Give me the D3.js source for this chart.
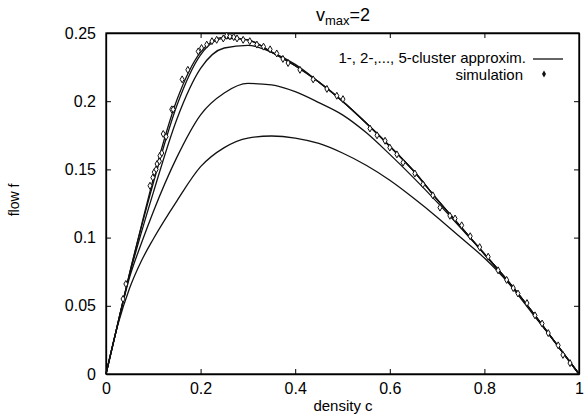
<!DOCTYPE html>
<html>
<head>
<meta charset="utf-8">
<script src="https://cdn.jsdelivr.net/npm/d3@7"></script>
<style>
  body { margin: 0; background: #fff; }
  svg { display: block; font-family: "Liberation Sans", Arial, sans-serif; }
</style>
</head>
<body>
<div id="chart"></div>
<script>
// density grid shared by the cluster approximations
const density = [0, 0.025, 0.05, 0.075, 0.1, 0.15, 0.2, 0.25, 0.3, 0.35, 0.4, 0.45, 0.5,
                 0.55, 0.6, 0.65, 0.7, 0.75, 0.8, 0.85, 0.9, 0.95, 1.0];

// n-cluster approximations (flow values)
const cluster1 = [0, 0.036, 0.063, 0.083, 0.099, 0.127, 0.152, 0.166, 0.173, 0.1745, 0.173, 0.169, 0.162,
                  0.153, 0.142, 0.129, 0.115, 0.100, 0.085, 0.067, 0.045, 0.023, 0];
const cluster2 = [0, 0.037, 0.071, 0.096, 0.119, 0.159, 0.190, 0.206, 0.213, 0.212, 0.207, 0.199, 0.190,
                  0.177, 0.161, 0.144, 0.126, 0.107, 0.088, 0.068, 0.046, 0.023, 0];
const cluster3 = [0, 0.037, 0.073, 0.104, 0.133, 0.187, 0.224, 0.239, 0.241, 0.236, 0.227, 0.214, 0.2,
                  0.184, 0.167, 0.149, 0.128, 0.108, 0.088, 0.068, 0.046, 0.023, 0];
const cluster4 = [0, 0.037, 0.074, 0.108, 0.140, 0.197, 0.234, 0.246, 0.245, 0.236, 0.226, 0.214, 0.2,
                  0.184, 0.167, 0.149, 0.128, 0.108, 0.088, 0.068, 0.046, 0.023, 0];
const cluster5 = [0, 0.037, 0.074, 0.109, 0.143, 0.201, 0.236, 0.247, 0.245, 0.236, 0.226, 0.214, 0.2,
                  0.184, 0.167, 0.149, 0.128, 0.108, 0.088, 0.068, 0.046, 0.023, 0];

// simulation points [c, f]
const simulation = [
  [0.036, 0.055], [0.042, 0.066], [0.093, 0.138], [0.099, 0.144], [0.102, 0.148],
  [0.106, 0.150], [0.108, 0.154], [0.113, 0.156], [0.114, 0.160], [0.118, 0.162],
  [0.121, 0.176], [0.127, 0.174], [0.139, 0.194], [0.142, 0.194], [0.161, 0.216],
  [0.173, 0.223], [0.195, 0.2365], [0.202, 0.239], [0.213, 0.2415], [0.224, 0.244],
  [0.234, 0.245], [0.248, 0.246], [0.255, 0.248], [0.262, 0.2475], [0.270, 0.247],
  [0.277, 0.246], [0.290, 0.245], [0.304, 0.244], [0.319, 0.2415], [0.333, 0.240],
  [0.347, 0.238], [0.361, 0.235], [0.374, 0.231], [0.385, 0.228], [0.410, 0.223],
  [0.438, 0.216], [0.467, 0.209], [0.488, 0.204], [0.501, 0.2015], [0.558, 0.180],
  [0.573, 0.175], [0.590, 0.171], [0.600, 0.166], [0.615, 0.161], [0.628, 0.155],
  [0.653, 0.147], [0.670, 0.139], [0.691, 0.131], [0.706, 0.122], [0.727, 0.116],
  [0.738, 0.114], [0.752, 0.109], [0.770, 0.101], [0.790, 0.093], [0.808, 0.086],
  [0.829, 0.076], [0.847, 0.069], [0.861, 0.063], [0.871, 0.059], [0.890, 0.052],
  [0.907, 0.043], [0.922, 0.037], [0.935, 0.030], [0.956, 0.021], [0.966, 0.014],
  [0.981, 0.008]
];

const xTicks = [0, 0.2, 0.4, 0.6, 0.8, 1];
const yTicks = [0, 0.05, 0.1, 0.15, 0.2, 0.25];
const xTickLabels = ["0", "0.2", "0.4", "0.6", "0.8", "1"];
const yTickLabels = ["0", "0.05", "0.1", "0.15", "0.2", "0.25"];

const width = 584, height = 415;
const margin = {top: 33, right: 5, bottom: 41, left: 106};

const svg = d3.select("#chart").append("svg")
  .attr("width", width)
  .attr("height", height);

const xScale = d3.scaleLinear().domain([0, 1]).range([margin.left, width - margin.right]);
const yScale = d3.scaleLinear().domain([0, 0.25]).range([height - margin.bottom, margin.top]);

// inward ticks on all four sides, gnuplot style
const tickLen = 5;
svg.append("g")
  .attr("transform", `translate(0, ${yScale(0)})`)
  .call(d3.axisBottom(xScale).tickValues(xTicks).tickSizeInner(-tickLen).tickSizeOuter(0)
        .tickPadding(9).tickFormat((d, i) => xTickLabels[i]));
svg.append("g")
  .attr("transform", `translate(0, ${yScale(0.25)})`)
  .call(d3.axisTop(xScale).tickValues(xTicks).tickSizeInner(-tickLen).tickSizeOuter(0)
        .tickFormat(""));
svg.append("g")
  .attr("transform", `translate(${xScale(0)}, 0)`)
  .call(d3.axisLeft(yScale).tickValues(yTicks).tickSizeInner(-tickLen).tickSizeOuter(0)
        .tickPadding(10).tickFormat((d, i) => yTickLabels[i]));
svg.append("g")
  .attr("transform", `translate(${xScale(1)}, 0)`)
  .call(d3.axisRight(yScale).tickValues(yTicks).tickSizeInner(-tickLen).tickSizeOuter(0)
        .tickFormat(""));

svg.selectAll(".tick text").attr("font-size", "16px").attr("fill", "#000")
  .style("font-family", "Liberation Sans, Arial, sans-serif");
svg.selectAll(".domain").attr("stroke", "#000").attr("stroke-width", 1.3);

// border box
svg.append("rect")
  .attr("x", xScale(0)).attr("y", yScale(0.25))
  .attr("width", xScale(1) - xScale(0)).attr("height", yScale(0) - yScale(0.25))
  .attr("fill", "none").attr("stroke", "#000").attr("stroke-width", 1.3);

// approximation curves
const lineGen = d3.line()
  .x(d => xScale(d[0]))
  .y(d => yScale(d[1]))
  .curve(d3.curveMonotoneX);

const curves = [cluster1, cluster2, cluster3, cluster4, cluster5];
svg.append("g").selectAll("path")
  .data(curves)
  .enter()
  .append("path")
  .attr("d", vals => lineGen(density.map((c, i) => [c, vals[i]])))
  .attr("fill", "none")
  .attr("stroke", "#111")
  .attr("stroke-width", 1.3);

// simulation diamonds
const diamond = d3.symbol().type(d3.symbolDiamond).size(14);
svg.append("g").selectAll("path")
  .data(simulation)
  .enter()
  .append("path")
  .attr("transform", d => `translate(${xScale(d[0])}, ${yScale(d[1])})`)
  .attr("d", diamond)
  .attr("fill", "#fff")
  .attr("stroke", "#111")
  .attr("stroke-width", 1);

// legend
const legend = svg.append("g").attr("font-size", "15px");
legend.append("text")
  .attr("x", 526).attr("y", 63)
  .attr("text-anchor", "end")
  .text("1-, 2-,..., 5-cluster approxim.");
legend.append("line")
  .attr("x1", 533).attr("x2", 563).attr("y1", 59).attr("y2", 59)
  .attr("stroke", "#111").attr("stroke-width", 1.3);
legend.append("text")
  .attr("x", 523).attr("y", 80)
  .attr("text-anchor", "end")
  .text("simulation");
legend.append("path")
  .attr("transform", "translate(544, 74)")
  .attr("d", diamond)
  .attr("fill", "#111");

// title
const title = svg.append("text")
  .attr("x", 343).attr("y", 21)
  .attr("text-anchor", "middle")
  .attr("font-size", "18px");
title.append("tspan").text("v");
title.append("tspan").attr("font-size", "13px").attr("dy", 4).text("max");
title.append("tspan").attr("dy", -4).text("=2");

// axis labels
svg.append("text")
  .attr("x", 343).attr("y", 411)
  .attr("text-anchor", "middle")
  .attr("font-size", "15px")
  .text("density c");

svg.append("text")
  .attr("transform", "translate(19, 200) rotate(-90)")
  .attr("text-anchor", "middle")
  .attr("font-size", "14px")
  .text("flow f");
</script>
</body>
</html>
